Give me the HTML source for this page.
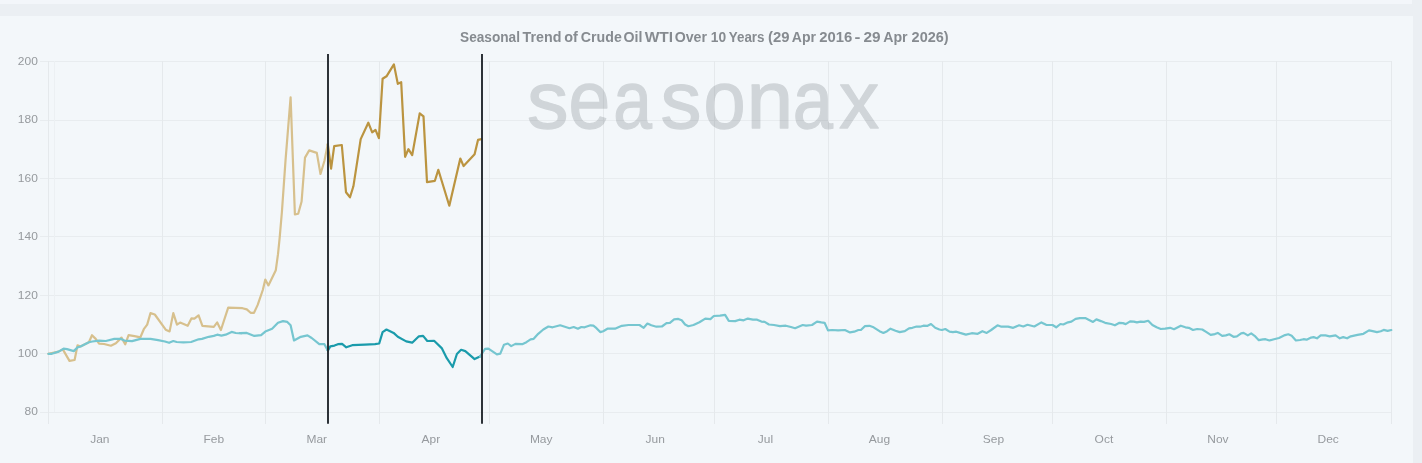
<!DOCTYPE html>
<html lang="en"><head><meta charset="utf-8"><title>Seasonal Trend of Crude Oil WTI</title>
<style>
html,body{margin:0;padding:0;}
body{width:1422px;height:463px;overflow:hidden;background:#ebeff3;font-family:"Liberation Sans",sans-serif;position:relative;}
.topstrip{position:absolute;left:0;top:0;width:1412px;height:4px;background:#f3f6fa;}
.panel{position:absolute;left:0;top:16px;width:1413px;height:447px;background:#f3f7fa;}
svg{position:absolute;left:0;top:0;}
.t{font-family:"Liberation Sans",sans-serif;font-size:11px;fill:#969a9e;}
.title{font-family:"Liberation Sans",sans-serif;font-size:14px;font-weight:bold;fill:#868b90;}
.wm{font-family:"Liberation Sans",sans-serif;font-size:81.5px;fill:#7d848a;stroke:#7d848a;stroke-width:1.3px;stroke-linejoin:round;opacity:0.29;}
</style></head><body>
<div class="topstrip"></div>
<div class="panel"></div>
<svg width="1422" height="463" viewBox="0 0 1422 463">
<g stroke="#e5e9ec" stroke-width="1" shape-rendering="crispEdges">
<line x1="39.8" y1="61.5" x2="1391.2" y2="61.5" stroke="#e8ecef"/>
<line x1="39.8" y1="120.5" x2="1391.2" y2="120.5" stroke="#e8ecef"/>
<line x1="39.8" y1="178.5" x2="1391.2" y2="178.5" stroke="#e8ecef"/>
<line x1="39.8" y1="236.5" x2="1391.2" y2="236.5" stroke="#e8ecef"/>
<line x1="39.8" y1="295.5" x2="1391.2" y2="295.5" stroke="#e8ecef"/>
<line x1="39.8" y1="353.5" x2="1391.2" y2="353.5" stroke="#e8ecef"/>
<line x1="39.8" y1="412.5" x2="1391.2" y2="412.5" stroke="#e8ecef"/>
<line x1="48.5" y1="61" x2="48.5" y2="424"/>
<line x1="162.5" y1="61" x2="162.5" y2="424"/>
<line x1="265.5" y1="61" x2="265.5" y2="424"/>
<line x1="379.5" y1="61" x2="379.5" y2="424"/>
<line x1="489.5" y1="61" x2="489.5" y2="424"/>
<line x1="603.5" y1="61" x2="603.5" y2="424"/>
<line x1="714.5" y1="61" x2="714.5" y2="424"/>
<line x1="828.5" y1="61" x2="828.5" y2="424"/>
<line x1="942.5" y1="61" x2="942.5" y2="424"/>
<line x1="1052.5" y1="61" x2="1052.5" y2="424"/>
<line x1="1166.5" y1="61" x2="1166.5" y2="424"/>
<line x1="1276.5" y1="61" x2="1276.5" y2="424"/>
<line x1="1391.5" y1="61" x2="1391.5" y2="424"/>
<line x1="54.5" y1="61" x2="54.5" y2="412" stroke="#ecf0f3"/>
</g>
<text class="wm" y="127.7"><tspan x="527.0" textLength="41.6" lengthAdjust="spacingAndGlyphs">s</tspan><tspan x="568.4" textLength="41.7" lengthAdjust="spacingAndGlyphs">e</tspan><tspan x="613.3" textLength="38.7" lengthAdjust="spacingAndGlyphs">a</tspan><tspan x="660.6" textLength="41.0" lengthAdjust="spacingAndGlyphs">s</tspan><tspan x="703.6" textLength="42.1" lengthAdjust="spacingAndGlyphs">o</tspan><tspan x="746.4" textLength="46.8" lengthAdjust="spacingAndGlyphs">n</tspan><tspan x="792.8" textLength="40.2" lengthAdjust="spacingAndGlyphs">a</tspan><tspan x="838.9" textLength="40.2" lengthAdjust="spacingAndGlyphs">x</tspan></text>
<text class="title" y="42.2"><tspan x="460.1" textLength="59.9" lengthAdjust="spacingAndGlyphs">Seasonal</tspan> <tspan x="522.6" textLength="38.8" lengthAdjust="spacingAndGlyphs">Trend</tspan> <tspan x="564.3" textLength="13.6" lengthAdjust="spacingAndGlyphs">of</tspan> <tspan x="580.8" textLength="41.0" lengthAdjust="spacingAndGlyphs">Crude</tspan> <tspan x="623.5" textLength="18.9" lengthAdjust="spacingAndGlyphs">Oil</tspan> <tspan x="644.7" textLength="28.4" lengthAdjust="spacingAndGlyphs">WTI</tspan> <tspan x="674.7" textLength="32.3" lengthAdjust="spacingAndGlyphs">Over</tspan> <tspan x="710.8" textLength="15.3" lengthAdjust="spacingAndGlyphs">10</tspan> <tspan x="728.8" textLength="35.7" lengthAdjust="spacingAndGlyphs">Years</tspan> <tspan x="768.1" textLength="21.5" lengthAdjust="spacingAndGlyphs">(29</tspan> <tspan x="791.8" textLength="24.2" lengthAdjust="spacingAndGlyphs">Apr</tspan> <tspan x="819.2" textLength="33.0" lengthAdjust="spacingAndGlyphs">2016</tspan> <tspan x="854.5" textLength="5.9" lengthAdjust="spacingAndGlyphs">-</tspan> <tspan x="863.5" textLength="17.1" lengthAdjust="spacingAndGlyphs">29</tspan> <tspan x="883.2" textLength="24.4" lengthAdjust="spacingAndGlyphs">Apr</tspan> <tspan x="911.6" textLength="37.0" lengthAdjust="spacingAndGlyphs">2026)</tspan></text>
<text class="t" transform="translate(37.8,65.2) scale(1.09,1)" text-anchor="end">200</text>
<text class="t" transform="translate(37.8,123.2) scale(1.09,1)" text-anchor="end">180</text>
<text class="t" transform="translate(37.8,182.0) scale(1.09,1)" text-anchor="end">160</text>
<text class="t" transform="translate(37.8,240.4) scale(1.09,1)" text-anchor="end">140</text>
<text class="t" transform="translate(37.8,299.0) scale(1.09,1)" text-anchor="end">120</text>
<text class="t" transform="translate(37.8,357.0) scale(1.09,1)" text-anchor="end">100</text>
<text class="t" transform="translate(37.8,415.3) scale(1.09,1)" text-anchor="end">80</text>
<text class="t" transform="translate(99.8,442.6) scale(1.09,1)" text-anchor="middle">Jan</text>
<text class="t" transform="translate(213.8,442.6) scale(1.09,1)" text-anchor="middle">Feb</text>
<text class="t" transform="translate(316.8,442.6) scale(1.09,1)" text-anchor="middle">Mar</text>
<text class="t" transform="translate(430.8,442.6) scale(1.09,1)" text-anchor="middle">Apr</text>
<text class="t" transform="translate(541.2,442.6) scale(1.09,1)" text-anchor="middle">May</text>
<text class="t" transform="translate(655.2,442.6) scale(1.09,1)" text-anchor="middle">Jun</text>
<text class="t" transform="translate(765.5,442.6) scale(1.09,1)" text-anchor="middle">Jul</text>
<text class="t" transform="translate(879.5,442.6) scale(1.09,1)" text-anchor="middle">Aug</text>
<text class="t" transform="translate(993.5,442.6) scale(1.09,1)" text-anchor="middle">Sep</text>
<text class="t" transform="translate(1103.9,442.6) scale(1.09,1)" text-anchor="middle">Oct</text>
<text class="t" transform="translate(1217.9,442.6) scale(1.09,1)" text-anchor="middle">Nov</text>
<text class="t" transform="translate(1328.2,442.6) scale(1.09,1)" text-anchor="middle">Dec</text>
<polyline fill="none" stroke-width="2.2" stroke-linejoin="round" stroke-linecap="round" stroke="#d7c08d" points="48.4,353.8 58.6,351.6 62.8,349.4 69.5,360.9 74.6,360.0 77.5,345.4 80.5,346.5 88.9,342.3 92.0,335.2 95.7,338.9 99.1,343.7 104.1,344.0 110.9,345.7 115.9,343.2 121.5,337.6 125.2,344.3 128.6,335.2 134.5,336.1 140.4,337.3 143.8,329.2 147.2,324.6 150.5,313.1 154.8,314.5 165.7,329.7 169.6,331.4 173.3,313.1 177.0,324.6 180.1,322.6 187.7,325.8 191.4,318.4 194.4,318.7 198.6,315.3 202.4,325.9 213.8,326.8 217.2,322.4 220.9,330.0 228.2,307.7 242.5,308.2 246.8,309.4 250.6,312.8 254.0,312.8 257.7,304.9 262.8,290.0 265.3,279.5 268.4,285.4 275.8,270.2 278.0,254.2 279.7,237.3 281.9,212.0 285.6,159.3 290.6,97.4 294.9,214.5 298.2,213.7 301.6,201.5 305.0,157.6 309.2,150.4 316.8,152.9 320.5,174.0 324.4,161.0 327.8,144.1"/>
<polyline fill="none" stroke-width="2.2" stroke-linejoin="round" stroke-linecap="round" stroke="#bb9440" points="327.8,144.1 331.1,168.6 334.2,146.2 341.8,145.0 346.0,192.2 350.0,197.3 353.4,186.3 360.7,139.1 368.3,122.7 372.2,132.3 375.5,129.8 378.9,138.2 382.6,78.8 386.5,76.3 393.9,64.4 397.8,83.8 401.2,82.2 405.1,156.8 408.4,149.2 412.2,155.1 419.7,113.4 423.5,116.4 427.0,182.1 434.9,180.8 438.3,169.8 449.3,205.7 460.3,158.5 463.6,166.1 474.6,154.3 478.0,139.9 481.4,139.1"/>
<polyline fill="none" stroke-width="2.2" stroke-linejoin="round" stroke-linecap="round" stroke="#76c6d0" points="48.4,353.8 51.8,353.8 58.6,351.6 63.6,348.7 67.0,349.1 73.8,351.1 77.5,347.4 80.5,346.5 88.9,342.3 92.3,341.5 99.1,340.6 105.8,341.0 114.3,338.9 121.0,338.9 124.4,340.6 132.0,341.1 140.4,338.9 150.5,338.9 158.1,340.1 164.9,341.5 169.1,342.8 173.3,341.0 176.7,342.0 183.5,342.3 191.1,342.0 198.6,339.3 202.0,338.9 208.8,336.8 213.8,335.9 217.2,334.7 221.4,335.6 225.7,334.7 231.6,331.9 235.8,333.0 241.7,333.5 240.0,333.2 246.8,332.9 254.3,335.9 261.1,335.1 265.3,331.6 272.1,328.7 278.0,322.8 283.0,321.1 287.3,321.9 290.6,325.3 294.0,340.5 300.8,336.8 307.5,335.4 311.7,338.0 319.3,344.2 324.4,344.2 327.8,350.6"/>
<polyline fill="none" stroke-width="2.2" stroke-linejoin="round" stroke-linecap="round" stroke="#1a9bab" points="327.8,350.6 330.3,346.4 334.5,345.6 337.9,344.2 342.1,343.9 346.3,347.3 352.2,345.2 364.9,344.7 375.0,344.2 379.2,343.5 382.6,332.1 386.5,329.5 393.6,332.9 397.8,336.8 406.2,341.4 412.2,342.7 418.9,336.3 423.1,335.9 427.3,341.0 434.1,340.8 441.7,348.1 446.8,358.2 452.7,367.0 456.9,354.0 461.1,349.8 465.3,351.1 474.6,359.1 480.0,356.5"/>
<polyline fill="none" stroke-width="2.2" stroke-linejoin="round" stroke-linecap="round" stroke="#76c6d0" points="480.0,356.5 485.1,348.9 488.4,348.6 496.9,354.3 500.3,353.7 504.0,344.7 507.8,343.5 511.2,346.1 515.4,343.9 522.2,344.2 526.4,342.2 530.6,339.3 533.7,338.8 538.2,333.8 543.3,329.5 548.4,326.5 552.6,327.3 560.2,325.3 569.5,328.2 573.7,327.0 577.9,328.7 581.3,327.0 584.6,327.3 590.5,325.3 593.4,325.7 596.5,328.2 600.2,332.1 603.2,331.2 607.4,328.7 615.0,328.7 621.8,325.8 628.5,325.0 639.5,325.0 643.7,327.8 647.4,323.6 651.3,325.3 656.4,326.7 661.9,326.5 666.5,323.1 669.9,322.8 674.1,319.4 678.3,318.9 681.7,320.3 685.1,324.5 688.4,326.2 693.5,325.0 699.4,322.3 705.3,318.6 710.4,319.1 713.8,316.0 720.0,315.7 725.1,314.9 728.8,320.8 735.2,321.1 739.4,319.7 743.6,320.3 747.8,318.6 752.9,319.7 757.1,319.7 761.4,321.6 764.7,321.9 768.9,324.5 774.0,325.0 779.9,326.2 785.8,325.7 790.9,327.0 795.1,328.2 802.7,325.0 806.1,325.7 812.0,325.0 817.0,321.6 821.3,322.4 824.6,322.8 828.0,330.4 832.2,330.0 838.1,330.4 844.9,330.0 850.0,332.4 854.2,331.7 858.4,330.0 860.9,330.0 864.8,326.2 869.4,325.8 873.6,327.3 879.5,331.2 883.4,332.9 887.1,331.2 890.5,328.7 895.5,330.7 899.7,332.1 904.8,331.2 909.0,328.4 912.4,327.8 916.6,326.5 920.0,326.7 923.4,325.7 927.6,325.8 931.0,324.0 935.2,327.8 939.4,329.5 941.9,330.0 945.3,329.0 949.5,331.6 952.9,332.1 956.3,331.7 960.0,332.9 965.9,334.6 971.8,333.2 977.7,333.8 982.4,331.2 986.7,332.9 991.2,330.0 997.5,325.3 1001.4,326.7 1008.1,326.7 1013.2,327.8 1019.1,325.3 1023.3,326.5 1027.5,324.8 1034.3,326.5 1041.4,322.4 1046.1,324.8 1052.5,325.0 1056.2,327.3 1060.4,324.0 1063.3,324.5 1068.0,322.3 1071.4,321.6 1075.6,318.9 1079.8,318.1 1085.7,318.2 1089.1,319.9 1093.0,321.9 1096.4,319.4 1100.9,321.1 1105.1,322.8 1111.1,324.0 1114.9,325.3 1119.5,322.8 1122.9,323.1 1125.7,324.1 1130.1,321.4 1133.8,321.6 1136.9,322.4 1140.6,321.6 1144.0,321.9 1148.2,320.8 1152.4,325.0 1156.6,327.3 1160.8,329.0 1165.1,328.7 1170.1,327.8 1174.0,329.2 1180.8,325.7 1185.4,327.3 1188.8,327.8 1193.0,330.0 1197.2,329.0 1202.3,329.5 1206.5,332.1 1210.7,334.9 1214.9,334.1 1217.8,332.9 1222.2,335.8 1225.9,335.4 1229.3,334.3 1233.5,336.8 1236.9,336.3 1241.1,333.4 1243.6,332.9 1247.8,335.4 1251.2,333.4 1254.6,335.8 1258.8,340.2 1263.0,339.3 1265.5,339.2 1269.4,340.5 1274.0,339.2 1279.0,338.0 1285.0,335.1 1288.3,334.3 1291.7,335.8 1295.9,340.5 1300.1,340.0 1303.5,339.2 1306.6,339.7 1311.1,337.6 1313.6,337.1 1317.0,338.3 1320.7,335.4 1325.5,335.4 1329.7,336.3 1335.6,335.4 1339.8,338.3 1343.2,337.1 1347.1,338.3 1350.8,336.3 1357.5,334.9 1363.4,333.8 1369.0,330.4 1372.7,331.2 1376.9,332.1 1380.8,331.2 1383.7,329.9 1387.6,330.9 1391.3,330.0"/>
<g stroke="#22282e" stroke-width="1.9">
<line x1="328" y1="54" x2="328" y2="423.7"/>
<line x1="482" y1="54" x2="482" y2="423.7"/>
</g>
</svg></body></html>
